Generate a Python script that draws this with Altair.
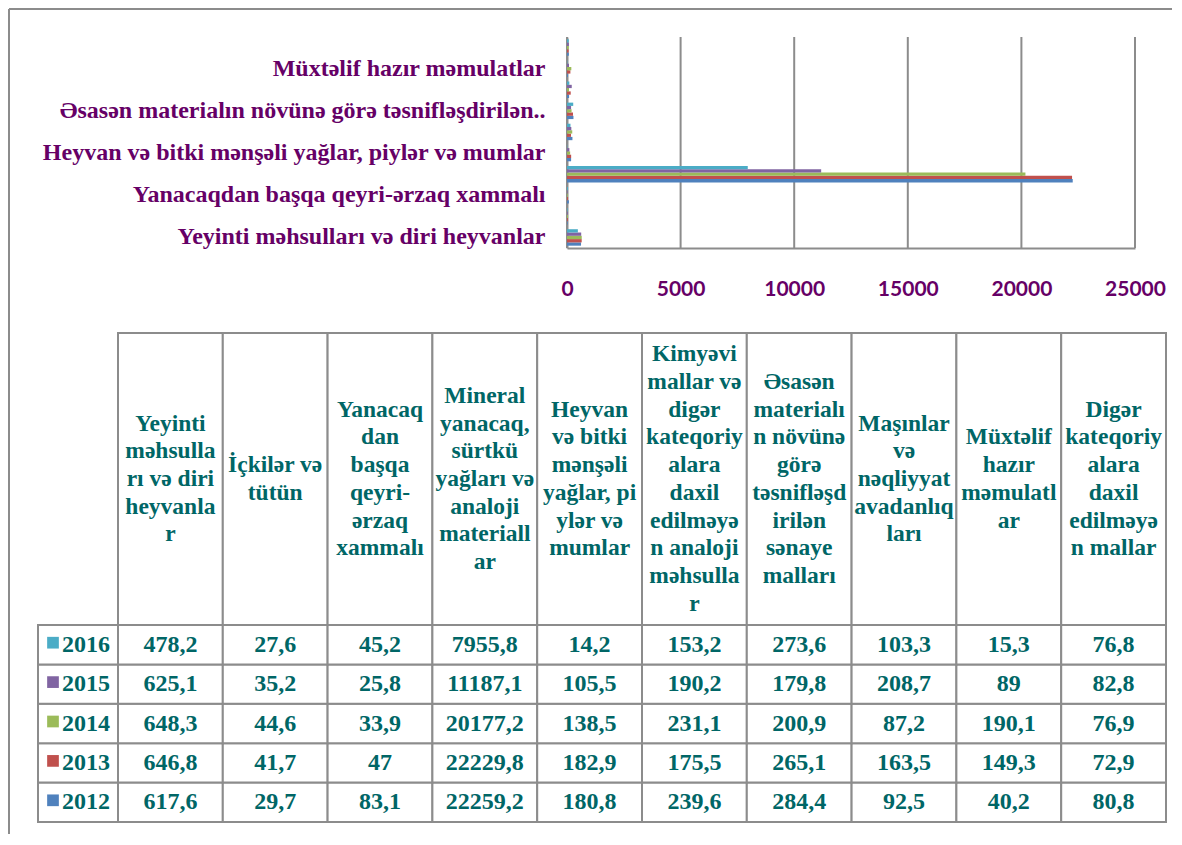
import altair as alt
import pandas as pd

# ---------------- data ----------------
categories = [
    "Yeyinti məhsulları və diri heyvanlar",
    "İçkilər və tütün",
    "Yanacaqdan başqa qeyri-ərzaq xammalı",
    "Mineral yanacaq, sürtkü yağları və analoji materiallar",
    "Heyvan və bitki mənşəli yağlar, piylər və mumlar",
    "Kimyəvi mallar və digər kateqoriyalara daxil edilməyən analoji məhsullar",
    "Əsasən materialın növünə görə təsnifləşdirilən sənaye malları",
    "Maşınlar və nəqliyyat avadanlıqları",
    "Müxtəlif hazır məmulatlar",
    "Digər kateqoriyalara daxil edilməyən mallar",
]
header_text = [
    "Yeyinti\nməhsulla\nrı və diri\nheyvanla\nr",
    "İçkilər və\ntütün",
    "Yanacaq\ndan\nbaşqa\nqeyri-\nərzaq\nxammalı",
    "Mineral\nyanacaq,\nsürtkü\nyağları və\nanaloji\nmateriall\nar",
    "Heyvan\nvə bitki\nmənşəli\nyağlar, pi\nylər və\nmumlar",
    "Kimyəvi\nmallar və\ndigər\nkateqoriy\nalara\ndaxil\nedilməyə\nn analoji\nməhsulla\nr",
    "Əsasən\nmaterialı\nn növünə\ngörə\ntəsnifləşd\nirilən\nsənaye\nmalları",
    "Maşınlar\nvə\nnəqliyyat\navadanlıq\nları",
    "Müxtəlif\nhazır\nməmulatl\nar",
    "Digər\nkateqoriy\nalara\ndaxil\nedilməyə\nn mallar",
]
axis_label_text = {
    "Yeyinti məhsulları və diri heyvanlar": "Yeyinti məhsulları və diri heyvanlar",
    "Yanacaqdan başqa qeyri-ərzaq xammalı": "Yanacaqdan başqa qeyri-ərzaq xammalı",
    "Heyvan və bitki mənşəli yağlar, piylər və mumlar": "Heyvan və bitki mənşəli yağlar, piylər və mumlar",
    "Əsasən materialın növünə görə təsnifləşdirilən sənaye malları": "Əsasən materialın növünə görə təsnifləşdirilən..",
    "Müxtəlif hazır məmulatlar": "Müxtəlif hazır məmulatlar",
}
years = ["2012", "2013", "2014", "2015", "2016"]
v2012 = [617.6, 29.7, 83.1, 22259.2, 180.8, 239.6, 284.4, 92.5, 40.2, 80.8]
v2013 = [646.8, 41.7, 47, 22229.8, 182.9, 175.5, 265.1, 163.5, 149.3, 72.9]
v2014 = [648.3, 44.6, 33.9, 20177.2, 138.5, 231.1, 200.9, 87.2, 190.1, 76.9]
v2015 = [625.1, 35.2, 25.8, 11187.1, 105.5, 190.2, 179.8, 208.7, 89, 82.8]
v2016 = [478.2, 27.6, 45.2, 7955.8, 14.2, 153.2, 273.6, 103.3, 15.3, 76.8]
x_ticks = [0, 5000, 10000, 15000, 20000, 25000]
colors = ["#4F81BD", "#C0504D", "#9BBB59", "#8064A2", "#4BACC6"]

# ---------------- tables ----------------
rows = []
for yr, vals in zip(years, [v2012, v2013, v2014, v2015, v2016]):
    for c, v in zip(categories, vals):
        rows.append({"cat": c, "year": yr, "value": v,
                     "label": f"{v:g}".replace(".", ",")})
df = pd.DataFrame(rows)
cats_rev = categories[::-1]
years_rev = years[::-1]

purple = "#660066"
teal = "#006666"
gray = "#8C8C8C"
serif = "Liberation Serif, Times New Roman, serif"
W = 1160
HDR_H = 292
LINE_H = 27.7

label_expr = " : ".join(
    f"datum.value == '{k}' ? '{v}'" for k, v in axis_label_text.items()
) + " : ''"

# ---------------- bar chart ----------------
xs = alt.Scale(domain=[0, 25000], range=[559, 1127], nice=False)
x_axis = alt.Axis(values=x_ticks, grid=False, ticks=False, tickSize=0,
                  domainColor=gray, domainWidth=2, labelFont="Lato",
                  labelFontWeight="bold", labelFontSize=21, labelColor=purple,
                  labelPadding=30, labelFlush=False, format="d", title="")
x_enc = alt.X("value:Q", scale=xs, axis=x_axis)
ys = alt.Scale(domain=cats_rev, range=[29, 240], paddingInner=0.22, paddingOuter=0.11)
y_axis = alt.Axis(offset=-559, ticks=False, tickSize=0, domainColor=gray,
                  domainWidth=2, labelFont=serif, labelFontWeight="bold",
                  labelFontSize=24, labelColor=purple, labelPadding=22,
                  labelLimit=700, labelExpr=label_expr, title="")
color_scale = alt.Scale(domain=years, range=colors)

bars = alt.Chart(df).mark_bar(opacity=1).encode(
    x=x_enc,
    y=alt.Y("cat:N", scale=ys, axis=y_axis),
    yOffset=alt.YOffset("year:N", scale=alt.Scale(domain=years_rev)),
    color=alt.Color("year:N", scale=color_scale, legend=None),
)
grid = alt.Chart(pd.DataFrame({"value": x_ticks})).mark_rule(
    color=gray, strokeWidth=2).encode(x=x_enc, y=alt.value(29), y2=alt.value(240))

frame_df = pd.DataFrame({"k": [0]})
frame_top = alt.Chart(frame_df).mark_rule(color=gray, strokeWidth=2).encode(
    x=alt.value(1), x2=alt.value(1164), y=alt.value(1))
frame_left = alt.Chart(frame_df).mark_rule(color=gray, strokeWidth=2).encode(
    x=alt.value(1), y=alt.value(1), y2=alt.value(826))

top = alt.layer(grid, bars, frame_top, frame_left).properties(width=W, height=240)

# ---------------- table header ----------------
xt = alt.Scale(domain=categories, range=[110, 1158], paddingInner=0, paddingOuter=0)
hx = alt.X("cat:N", scale=xt, axis=None)
hdf = pd.DataFrame({"cat": categories, "hdr": header_text})
hys = alt.Scale(domain=[0, HDR_H], range=[0, HDR_H], nice=False, zero=False)
hrect = alt.Chart(hdf).mark_rect(fill="white", stroke=gray, strokeWidth=2).encode(
    x=hx, y=alt.datum(0, scale=hys, axis=None), y2=alt.datum(HDR_H))
htext = alt.Chart(hdf).transform_calculate(
    nl="length(split(datum.hdr, '\\n'))"
).transform_calculate(
    ty=f"{HDR_H / 2} - (datum.nl - 1) * {LINE_H / 2}"
).mark_text(font=serif, fontWeight="bold", fontSize=23.5,
            lineHeight=LINE_H, lineBreak="\n", color=teal).encode(
    x=hx, y=alt.Y("ty:Q", scale=hys, axis=None), text="hdr:N")
header = alt.layer(hrect, htext).properties(width=W, height=HDR_H)

# ---------------- table body ----------------
ty = alt.Y("year:N", scale=alt.Scale(domain=years_rev, paddingInner=0, paddingOuter=0), axis=None)
drect = alt.Chart(df).mark_rect(fill="white", stroke=gray, strokeWidth=2).encode(x=hx, y=ty)
dtext = alt.Chart(df).mark_text(font=serif, fontWeight="bold", fontSize=24, color=teal).encode(
    x=hx, y=ty, text="label:N")
leg_df = pd.DataFrame({"year": years})
lrect = alt.Chart(leg_df).mark_rect(fill="white", stroke=gray, strokeWidth=2).encode(
    x=alt.value(30), x2=alt.value(110), y=ty)
lsq = alt.Chart(leg_df).mark_square(size=137, opacity=1, yOffset=-2).encode(
    x=alt.value(45), y=ty, color=alt.Color("year:N", scale=color_scale, legend=None))
ltxt = alt.Chart(leg_df).mark_text(align="left", font=serif, fontWeight="bold",
                                   fontSize=24, color=teal).encode(
    x=alt.value(54), y=ty, text="year:N")
body = alt.layer(drect, lrect, dtext, lsq, ltxt).properties(width=W, height=197)

table = alt.vconcat(header, body, spacing=0, bounds="flush")
chart = alt.vconcat(top, table, spacing=85, bounds="flush").properties(
    padding=0).configure_view(strokeWidth=0)

chart.save("out.html", embed_options={"renderer": "svg", "actions": False})
